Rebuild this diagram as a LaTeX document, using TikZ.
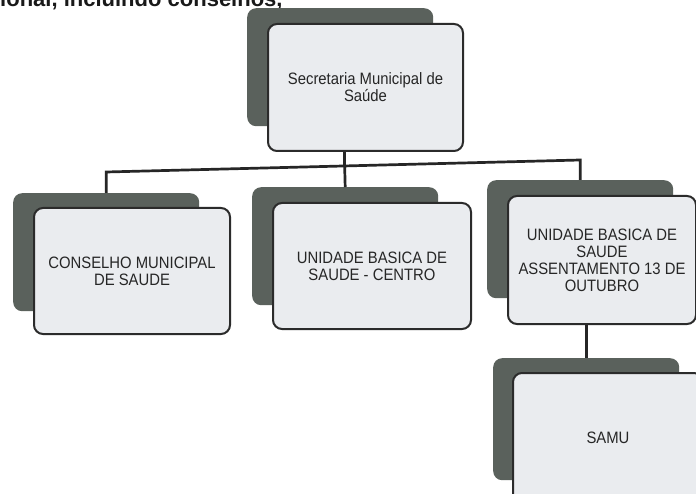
\documentclass[tikz,border=0pt]{standalone}
\usepackage{fontspec}
\usetikzlibrary{calc}
\setmainfont{Liberation Sans}
\newfontfamily\narrowfont{Liberation Sans}[FakeStretch=0.9]
\definecolor{shadowc}{HTML}{5A615C}
\definecolor{frontc}{HTML}{EAECEF}
\definecolor{edgec}{HTML}{2B2B2B}
\definecolor{textc}{HTML}{262626}
\begin{document}
\begin{tikzpicture}[x=1pt,y=-1pt,
  shadowbox/.style={fill=shadowc, rounded corners=9pt, inner sep=0pt, anchor=north west,
    minimum width=186pt, minimum height=118pt},
  frontbox/.style={fill=frontc, draw=edgec, line width=2pt, rounded corners=9pt, inner sep=0pt,
    anchor=north west, minimum width=196pt, minimum height=126pt, align=center,
    text=textc, font=\narrowfont\fontsize{16.5}{17}\selectfont},
  link/.style={draw=black!85, line width=2.7pt}]
\useasboundingbox (0,0) rectangle (696,494);
\clip (0,0) rectangle (696,494);
\fill[white] (0,0) rectangle (696,494);

\node[anchor=base west, inner sep=0pt, text=black!90,
  font=\bfseries\fontsize{22}{22}\selectfont] (hdr) at (0,7) {ional, incluindo conselhos,};

% top
\node[shadowbox] (s0) at (247,8) {};
\node[frontbox, minimum width=195pt, minimum height=127pt] (f0) at (267,23) {Secretaria Municipal de\\Saúde};
% level 2
\node[shadowbox] (s1) at (13,193) {};
\node[frontbox] (f1) at (33,207) {CONSELHO MUNICIPAL\\DE SAUDE};
\node[shadowbox] (s2) at (252,187) {};
\node[frontbox, minimum width=198pt] (f2) at (272,202) {UNIDADE BASICA DE\\SAUDE - CENTRO};
\node[shadowbox] (s3) at (487,180) {};
\node[frontbox, minimum width=188pt, minimum height=128pt] (f3) at (507,195) {UNIDADE BASICA DE\\SAUDE\\ASSENTAMENTO 13 DE\\OUTUBRO};
% level 3
\node[shadowbox, minimum height=122pt] (s4) at (493,358) {};
\node[frontbox, minimum width=190pt, minimum height=130pt] (f4) at (512,372) {SAMU};

% connectors
\coordinate (bL) at (s1.north |- 0,172);
\coordinate (bR) at (s3.north |- 0,160);
\coordinate (bC) at ($(bL)!(s2.north)!(bR)$);
\draw[link] (s1.north) -- (bL) -- (bR) -- (s3.north);
\draw[link] (s2.north) -- (bC);
\draw[link] (bC) -- (bC |- f0.south);
\draw[link] (f3.south -| s4.north) -- (s4.north);
\end{tikzpicture}
\end{document}
